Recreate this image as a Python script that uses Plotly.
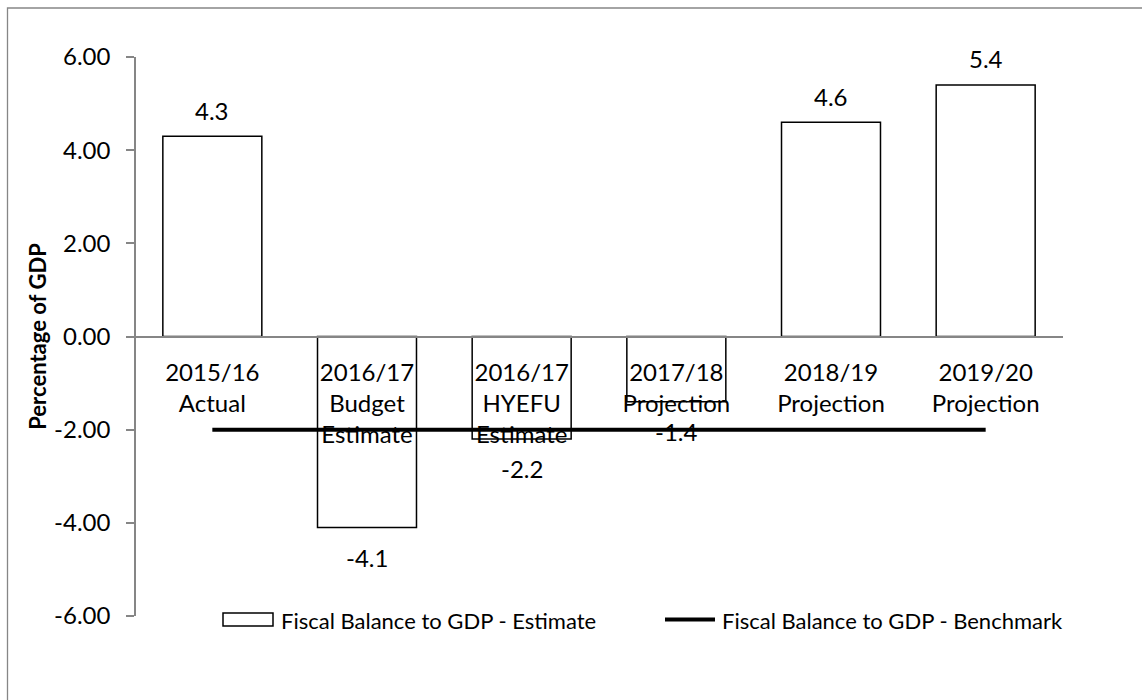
import plotly.graph_objects as go

# Fiscal balance to GDP (%), estimate vs benchmark
categories = [
    "2015/16<br>Actual",
    "2016/17<br>Budget<br>Estimate",
    "2016/17<br>HYEFU<br>Estimate",
    "2017/18<br>Projection",
    "2018/19<br>Projection",
    "2019/20<br>Projection",
]
estimate = [4.3, -4.1, -2.2, -1.4, 4.6, 5.4]
benchmark = [-2.0, -2.0, -2.0, -2.0, -2.0, -2.0]
series_names = ["Fiscal Balance to GDP - Estimate", "Fiscal Balance to GDP - Benchmark"]
y_ticks = [-6, -4, -2, 0, 2, 4, 6]
y_tick_text = [f"{v:.2f}" for v in y_ticks]

FONT = "Lato"
AXIS_GREY = "#868686"

W, H = 1142, 700
L, R, T, B = 135, 79, 57, 84
PW, PH = W - L - R, H - T - B


def px_x(px):
    return (px - L) / PW


def px_y(py):
    return (H - B - py) / PH


fig = go.Figure()

fig.add_trace(go.Bar(
    x=categories, y=estimate, name=series_names[0],
    marker=dict(color="white", line=dict(color="black", width=1.5)),
    showlegend=False,
))

fig.add_trace(go.Scatter(
    x=categories, y=benchmark, name=series_names[1], mode="lines",
    line=dict(color="black", width=4),
    showlegend=False,
))

# value labels above positive bars, below negative ones
annotations = []
for cat, v in zip(categories, estimate):
    annotations.append(dict(
        x=cat, y=v, xref="x", yref="y", text=f"{v:.1f}", showarrow=False,
        yanchor="middle", yshift=26 if v >= 0 else -30,
        font=dict(family=FONT, size=24, color="black"),
    ))

# legend
annotations.append(dict(
    x=px_x(279), y=px_y(620), xref="paper", yref="paper", text=series_names[0],
    showarrow=False, xanchor="left", yanchor="middle",
    font=dict(family=FONT, size=22, color="black"),
))
annotations.append(dict(
    x=px_x(720), y=px_y(620), xref="paper", yref="paper", text=series_names[1],
    showarrow=False, xanchor="left", yanchor="middle",
    font=dict(family=FONT, size=22, color="black"),
))

shapes = [
    # chart area border
    dict(type="rect", xref="paper", yref="paper",
         x0=px_x(7.5), x1=px_x(1160), y0=px_y(720), y1=px_y(8),
         line=dict(color=AXIS_GREY, width=1.3), fillcolor="rgba(0,0,0,0)", layer="below"),
    # legend keys
    dict(type="rect", xref="paper", yref="paper",
         x0=px_x(223), x1=px_x(273), y0=px_y(626), y1=px_y(613),
         line=dict(color="black", width=1.5), fillcolor="white"),
    dict(type="line", xref="paper", yref="paper",
         x0=px_x(665), x1=px_x(715), y0=px_y(619.5), y1=px_y(619.5),
         line=dict(color="black", width=4)),
]

fig.update_layout(
    width=W, height=H,
    margin=dict(l=L, r=R, t=T, b=B, pad=0),
    paper_bgcolor="white", plot_bgcolor="white",
    font=dict(family=FONT, size=24, color="black"),
    bargap=0.36,
    showlegend=False,
    annotations=annotations,
    shapes=shapes,
    xaxis=dict(
        type="category", anchor="free", position=0.5,
        showline=True, linecolor=AXIS_GREY, linewidth=1.5,
        ticks="", showgrid=False, zeroline=False,
        tickfont=dict(family=FONT, size=24, color="black"),
        ticklabelstandoff=15,
    ),
    yaxis=dict(
        range=[-6, 6], tickvals=y_ticks, ticktext=y_tick_text,
        anchor="free", position=0,
        showline=True, linecolor=AXIS_GREY, linewidth=1.5,
        ticks="outside", ticklen=8, tickcolor=AXIS_GREY, tickwidth=1.5,
        ticklabelstandoff=11,
        showgrid=False, zeroline=False,
        tickfont=dict(family=FONT, size=24, color="black"),
        title=dict(text="<b>Percentage of GDP</b>", standoff=0,
                   font=dict(family=FONT, size=22, color="black")),
    ),
)

fig.write_html("out.html")
